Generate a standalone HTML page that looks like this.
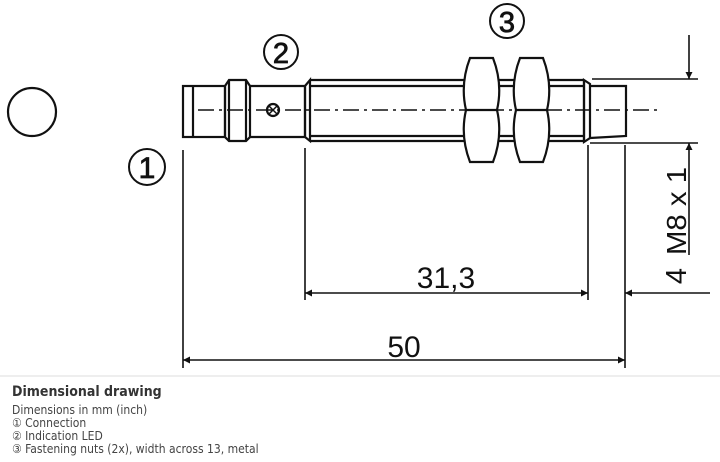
<!DOCTYPE html>
<html><head><meta charset="utf-8"><style>
body{margin:0;background:#fff;width:720px;height:462px;overflow:hidden;position:relative;font-family:"Liberation Sans","DejaVu Sans",sans-serif}
.t{position:absolute;left:12px;color:#444;font-size:12px;line-height:13px;font-family:"DejaVu Sans Condensed","DejaVu Sans",sans-serif}
</style></head><body>
<svg width="720" height="462" style="position:absolute;left:0;top:0" stroke="#111" fill="none" stroke-width="2.2">
<defs><marker id="a" viewBox="0 0 10 10" refX="10" refY="5" markerWidth="10" markerHeight="7" orient="auto-start-reverse" markerUnits="userSpaceOnUse"><path d="M0,0 L10,5 L0,10z" fill="#111" stroke="none"/></marker></defs>
<circle cx="32" cy="112" r="24"/>
<rect x="183" y="86" width="42" height="51"/>
<line x1="193" y1="86" x2="193" y2="137"/>
<path d="M225,86 L229,80 L246,80 L250,86 L250,137 L246,141 L229,141 L225,137z"/>
<line x1="229" y1="80" x2="229" y2="141"/><line x1="246" y1="80" x2="246" y2="141"/>
<line x1="250" y1="86" x2="305" y2="86"/><line x1="250" y1="137" x2="305" y2="137"/>
<circle cx="273" cy="110" r="6"/><path d="M269,106 L277,114 M277,106 L269,114" stroke-width="1.5"/>
<path d="M305,86 L310,80 L310,141 L305,137z"/>
<line x1="305" y1="86" x2="305" y2="137"/>
<line x1="310" y1="80" x2="584" y2="80"/><line x1="310" y1="86" x2="584" y2="86"/>
<line x1="310" y1="141" x2="584" y2="141"/><line x1="310" y1="136" x2="584" y2="136"/>
<path d="M584,80 L590,84 L590,138 L584,142z"/><line x1="584" y1="80" x2="584" y2="142"/>
<path d="M590,86 L626,86 L626,136 L590,138"/>
<g fill="#fff">
<path d="M470,58 L493,58 Q503,84 497,110 Q503,136 493,162 L470,162 Q460,136 466,110 Q460,84 470,58z"/>
<path d="M520,58 L543,58 Q553,84 547,110 Q553,136 543,162 L520,162 Q510,136 516,110 Q510,84 520,58z"/>
</g>
<line x1="466" y1="110" x2="497" y2="110"/><line x1="516" y1="110" x2="547" y2="110"/>
<line x1="198" y1="110" x2="660" y2="110" stroke-width="1.5" stroke-dasharray="16,5,3,5"/>
<g stroke-width="1.6">
<line x1="183" y1="150" x2="183" y2="368"/>
<line x1="305" y1="148" x2="305" y2="300"/>
<line x1="588" y1="145" x2="588" y2="300"/>
<line x1="625" y1="145" x2="625" y2="368"/>
<line x1="592" y1="79" x2="698" y2="79"/>
<line x1="590" y1="143" x2="698" y2="143"/>
<line x1="689" y1="35" x2="689" y2="79" marker-end="url(#a)"/>
<line x1="689" y1="255" x2="689" y2="143" marker-end="url(#a)"/>
<line x1="305" y1="293" x2="588" y2="293" marker-start="url(#a)" marker-end="url(#a)"/>
<line x1="710" y1="293" x2="625" y2="293" marker-end="url(#a)"/>
<line x1="183" y1="360" x2="625" y2="360" marker-start="url(#a)" marker-end="url(#a)"/>
</g>
<g stroke-width="2"><circle cx="147" cy="167" r="18"/><circle cx="281" cy="52" r="17"/><circle cx="507" cy="21" r="17"/></g>
<g fill="#111" stroke="none" font-family="Liberation Sans,sans-serif" text-anchor="middle">
<text x="147" y="178" font-size="30" stroke="#111" stroke-width="0.8">1</text>
<text x="281" y="63" font-size="29" stroke="#111" stroke-width="0.8">2</text>
<text x="507" y="32" font-size="29" stroke="#111" stroke-width="0.8">3</text>
<text x="446" y="288" font-size="30">31,3</text>
<text x="404" y="357" font-size="30">50</text>
<text transform="translate(686,211) rotate(-90)" font-size="28" textLength="88" lengthAdjust="spacingAndGlyphs">M8 x 1</text>
<text transform="translate(686,276) rotate(-90)" font-size="29">4</text>
</g>
<line x1="0" y1="376" x2="720" y2="376" stroke="#ddd" stroke-width="1"/>
</svg>
<div class="t" style="top:384px;font-weight:bold;font-size:14px;color:#333;line-height:16px">Dimensional drawing</div>
<div class="t" style="top:404px">Dimensions in mm (inch)</div>
<div class="t" style="top:417px">① Connection</div>
<div class="t" style="top:430px">② Indication LED</div>
<div class="t" style="top:443px">③ Fastening nuts (2x), width across 13, metal</div>
</body></html>
